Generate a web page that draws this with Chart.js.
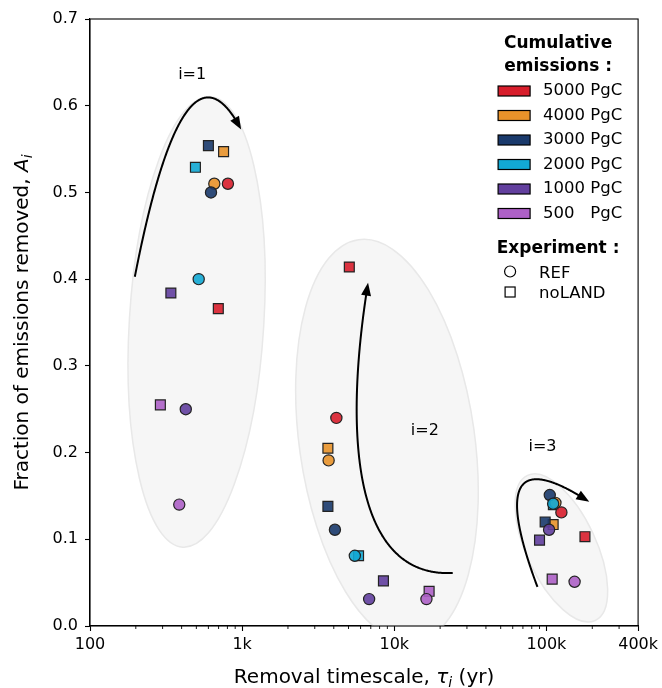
<!DOCTYPE html>
<html>
<head>
<meta charset="utf-8">
<script src="https://cdn.jsdelivr.net/npm/chart.js@4.4.0/dist/chart.umd.min.js"></script>
<style>
  html, body { margin: 0; padding: 0; background: #fff; }
  #wrap { width: 662px; height: 688px; }
</style>
</head>
<body>
<div id="wrap"><canvas id="chart" width="662" height="688"></canvas></div>
<script>
// cumulative emission levels, largest first (plot order)
const emissions = ['5000 PgC', '4000 PgC', '3000 PgC', '2000 PgC', '1000 PgC', '500   PgC'];
const colours = ['#d81e2c', '#e8922a', '#1a3a6c', '#12a9d4', '#623f9e', '#ad60c7'];

// removal timescale tau_i (yr) for i = 1, 2, 3
const refTau = [
  [806, 4160, 125300],
  [656, 3700, 114500],
  [624, 4070, 105100],
  [518, 5500, 110600],
  [426, 6830, 104000],
  [386, 16260, 153000]
];
// fraction removed A_i for i = 1, 2, 3
const refA = [
  [0.510, 0.240, 0.131],
  [0.510, 0.191, 0.142],
  [0.500, 0.111, 0.151],
  [0.400, 0.081, 0.141],
  [0.250, 0.031, 0.111],
  [0.140, 0.031, 0.051]
];
const nolandTau = [
  [697, 5060, 179000],
  [755, 3660, 110600],
  [600, 3660, 98000],
  [493, 5820, 111000],
  [340, 8480, 90000],
  [290, 16930, 109000]
];
const nolandA = [
  [0.366, 0.414, 0.103],
  [0.547, 0.205, 0.117],
  [0.554, 0.138, 0.120],
  [0.529, 0.081, 0.140],
  [0.384, 0.052, 0.099],
  [0.255, 0.040, 0.054]
];

const xTickVals = [100, 1000, 10000, 100000, 400000];
const xTickLabels = ['100', '1k', '10k', '100k', '400k'];
const yTickVals = [0, 0.1, 0.2, 0.3, 0.4, 0.5, 0.6, 0.7];
const groupLabels = ['i=1', 'i=2', 'i=3'];

const FONT = '"DejaVu Sans", sans-serif';
Chart.defaults.font.family = FONT;
Chart.defaults.color = '#000';

function series(tau, a) {
  return tau.map((t, i) => ({ x: t, y: a[i] }));
}

// Chart.js paints dataset 0 last, so build top-most first:
// REF circles (500 -> 5000) then noLAND squares (500 -> 5000)
const datasets = [];
for (let j = emissions.length - 1; j >= 0; j--) {
  datasets.push({
    label: 'REF ' + emissions[j],
    data: series(refTau[j], refA[j]),
    pointStyle: 'circle',
    pointRadius: 5.6,
    backgroundColor: colours[j] + 'e6',
    borderColor: '#222',
    borderWidth: 1.2
  });
}
for (let j = emissions.length - 1; j >= 0; j--) {
  datasets.push({
    label: 'noLAND ' + emissions[j],
    data: series(nolandTau[j], nolandA[j]),
    pointStyle: 'rect',
    pointRadius: 7,
    backgroundColor: colours[j] + 'e6',
    borderColor: '#222',
    borderWidth: 1.2
  });
}

// shapes in fractions of the plot area (x from left, y from top)
const ellipses = [
  { cx: 0.1945, cy: 0.499, rx: 0.1227, ry: 0.3718, rot: 3.5 },
  { cx: 0.5418, cy: 0.695, rx: 0.160, ry: 0.3347, rot: -8 },
  { cx: 0.860, cy: 0.8714, rx: 0.0636, ry: 0.1319, rot: -25 }
];
const arrows = [
  [[0.0818, 0.4246], [0.1727, 0.0041], [0.2758, 0.1822]],
  [[0.6618, 0.9126], [0.4909, 0.9209], [0.4582, 0.7098], [0.5073, 0.4345]],
  [[0.8164, 0.9357], [0.7091, 0.6768], [0.9109, 0.7955]]
];
const groupLabelPos = [[0.1864, 0.0915], [0.6109, 0.6785], [0.8255, 0.7049]];

function bez(pts, t) {
  const u = 1 - t;
  if (pts.length === 3) {
    return [u * u * pts[0][0] + 2 * u * t * pts[1][0] + t * t * pts[2][0],
            u * u * pts[0][1] + 2 * u * t * pts[1][1] + t * t * pts[2][1]];
  }
  return [u * u * u * pts[0][0] + 3 * u * u * t * pts[1][0] + 3 * u * t * t * pts[2][0] + t * t * t * pts[3][0],
          u * u * u * pts[0][1] + 3 * u * u * t * pts[1][1] + 3 * u * t * t * pts[2][1] + t * t * t * pts[3][1]];
}

function drawArrow(ctx, pts) {
  const headL = 13, headW = 10;
  const tip = pts[pts.length - 1];
  const samples = [];
  for (let k = 0; k <= 300; k++) samples.push(bez(pts, k / 300));
  let cut = samples.length - 1;
  while (cut > 0 && Math.hypot(samples[cut][0] - tip[0], samples[cut][1] - tip[1]) < headL - 2) cut--;
  ctx.beginPath();
  ctx.moveTo(samples[0][0], samples[0][1]);
  for (let k = 1; k <= cut; k++) ctx.lineTo(samples[k][0], samples[k][1]);
  ctx.lineWidth = 2;
  ctx.strokeStyle = '#000';
  ctx.stroke();
  // head direction from the point one head-length back
  let b = samples.length - 1;
  while (b > 0 && Math.hypot(samples[b][0] - tip[0], samples[b][1] - tip[1]) < headL) b--;
  const ang = Math.atan2(tip[1] - samples[b][1], tip[0] - samples[b][0]);
  ctx.save();
  ctx.translate(tip[0], tip[1]);
  ctx.rotate(ang);
  ctx.beginPath();
  ctx.moveTo(0, 0);
  ctx.lineTo(-headL, -headW / 2);
  ctx.lineTo(-headL, headW / 2);
  ctx.closePath();
  ctx.fillStyle = '#000';
  ctx.fill();
  ctx.restore();
}

function drawRich(ctx, parts, size) {
  const segs = parts.map(([t, s]) => {
    const fs = s === 'sub' ? size * 0.7 : size;
    const font = (s ? 'italic ' : '') + fs + 'px ' + FONT;
    ctx.font = font;
    return { t, font, w: ctx.measureText(t).width, dy: s === 'sub' ? size * 0.2 : 0 };
  });
  const total = segs.reduce((acc, s) => acc + s.w, 0);
  let x = -total / 2;
  ctx.textAlign = 'left';
  ctx.textBaseline = 'alphabetic';
  segs.forEach(s => { ctx.font = s.font; ctx.fillText(s.t, x, s.dy); x += s.w; });
}

const decor = {
  id: 'decor',
  beforeDatasetsDraw(chart) {
    const { ctx, chartArea: ca } = chart;
    const w = ca.right - ca.left, h = ca.bottom - ca.top;
    ctx.save();
    ctx.beginPath();
    ctx.rect(ca.left, ca.top, w, h);
    ctx.clip();
    ellipses.forEach(e => {
      ctx.beginPath();
      ctx.ellipse(ca.left + e.cx * w, ca.top + e.cy * h, e.rx * w, e.ry * h, e.rot * Math.PI / 180, 0, 2 * Math.PI);
      ctx.fillStyle = '#f6f6f6';
      ctx.fill();
      ctx.lineWidth = 1.5;
      ctx.strokeStyle = '#e8e8e8';
      ctx.stroke();
    });
    ctx.restore();
  },
  afterDatasetsDraw(chart) {
    const { ctx, chartArea: ca, scales } = chart;
    const w = ca.right - ca.left, h = ca.bottom - ca.top;
    const P = p => [ca.left + p[0] * w, ca.top + p[1] * h];
    ctx.save();
    arrows.forEach(a => drawArrow(ctx, a.map(P)));

    ctx.fillStyle = '#000';
    ctx.font = '16px ' + FONT;
    ctx.textAlign = 'center';
    ctx.textBaseline = 'middle';
    groupLabels.forEach((t, i) => {
      const p = P(groupLabelPos[i]);
      ctx.fillText(t, p[0], p[1]);
    });

    // legend
    const lx = ca.right - 80;
    ctx.font = 'bold 17px ' + FONT;
    ctx.textBaseline = 'alphabetic';
    ctx.fillText('Cumulative', lx, ca.top + 29);
    ctx.fillText('emissions :', lx, ca.top + 52);
    ctx.textAlign = 'left';
    ctx.font = '16.5px ' + FONT;
    emissions.forEach((lab, j) => {
      const cy = ca.top + 72 + j * 24.5;
      ctx.fillStyle = colours[j];
      ctx.fillRect(ca.right - 140, cy - 5, 32, 10);
      ctx.lineWidth = 1.2;
      ctx.strokeStyle = '#000';
      ctx.strokeRect(ca.right - 140, cy - 5, 32, 10);
      ctx.fillStyle = '#000';
      ctx.fillText(lab, ca.right - 95, cy + 4);
    });
    ctx.textAlign = 'center';
    ctx.font = 'bold 17px ' + FONT;
    ctx.fillText('Experiment :', lx, ca.top + 234);
    ctx.textAlign = 'left';
    ctx.font = '16.5px ' + FONT;
    ctx.lineWidth = 1.2;
    ctx.strokeStyle = '#000';
    ctx.beginPath();
    ctx.arc(ca.right - 128, ca.top + 252.5, 5.5, 0, 2 * Math.PI);
    ctx.stroke();
    ctx.fillText('REF', ca.right - 99, ca.top + 258.5);
    ctx.strokeRect(ca.right - 133, ca.top + 268, 10, 10);
    ctx.fillText('noLAND', ca.right - 99, ca.top + 279);

    // minor ticks on the log axis
    const xs = scales.x;
    ctx.lineWidth = 0.9;
    for (let d = 100; d <= 100000; d *= 10) {
      for (let m = 2; m <= 9; m++) {
        const v = m * d;
        if (v >= 400000) continue;
        const px = xs.getPixelForValue(v);
        ctx.beginPath();
        ctx.moveTo(px, ca.bottom);
        ctx.lineTo(px, ca.bottom + 3);
        ctx.stroke();
      }
    }
    // box
    ctx.lineWidth = 1.1;
    ctx.strokeRect(ca.left, ca.top, w, h);

    // axis titles
    ctx.fillStyle = '#000';
    ctx.save();
    ctx.translate((ca.left + ca.right) / 2, 683);
    drawRich(ctx, [['Removal timescale, ', ''], ['\u03c4', 'i'], ['i', 'sub'], [' (yr)', '']], 20);
    ctx.restore();
    ctx.save();
    ctx.translate(28, (ca.top + ca.bottom) / 2);
    ctx.rotate(-Math.PI / 2);
    drawRich(ctx, [['Fraction of emissions removed, ', ''], ['A', 'i'], ['i', 'sub']], 20);
    ctx.restore();
    ctx.restore();
  }
};

new Chart(document.getElementById('chart').getContext('2d'), {
  type: 'scatter',
  data: { datasets: datasets },
  options: {
    responsive: false,
    animation: false,
    devicePixelRatio: 1,
    layout: { padding: { left: 0, top: 19, right: 22, bottom: 0 } },
    plugins: { legend: { display: false }, tooltip: { enabled: false } },
    scales: {
      x: {
        type: 'logarithmic',
        min: 100,
        max: 400000,
        afterBuildTicks: s => { s.ticks = xTickVals.map(v => ({ value: v, major: true })); },
        afterFit: s => { s.height = 62; },
        ticks: {
          autoSkip: false,
          maxRotation: 0,
          padding: 4,
          font: { size: 16 },
          callback: v => xTickLabels[xTickVals.indexOf(v)]
        },
        grid: { drawOnChartArea: false, tickLength: 5, tickColor: '#000', tickWidth: 1.1 },
        border: { display: true, color: '#000', width: 1.1 }
      },
      y: {
        min: 0,
        max: 0.7,
        afterBuildTicks: s => { s.ticks = yTickVals.map(v => ({ value: v })); },
        afterFit: s => { s.width = 90; },
        ticks: {
          padding: 7,
          font: { size: 16 },
          callback: v => v.toFixed(1)
        },
        grid: { drawOnChartArea: false, tickLength: 5, tickColor: '#000', tickWidth: 1.1 },
        border: { display: true, color: '#000', width: 1.1 }
      }
    }
  },
  plugins: [decor]
});
</script>
</body>
</html>
